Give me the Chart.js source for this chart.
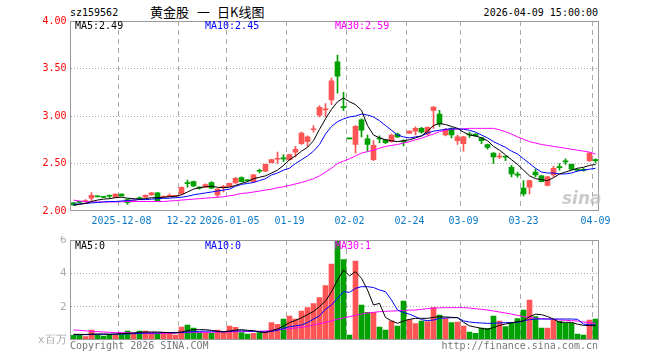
<!DOCTYPE html>
<html>
<head>
<meta charset="utf-8">
<script src="https://cdn.jsdelivr.net/npm/chart.js@4.4.0/dist/chart.umd.min.js"></script>
<style>
body { margin: 0; background: #fff; width: 660px; height: 360px; position: relative; overflow: hidden; font-family: "DejaVu Sans Mono", monospace; font-size: 10px; }
.t { position: absolute; white-space: pre; line-height: 12px; }
.cn { font-family: 'Noto Sans CJK SC'; font-size: 13px; line-height: 18px; top: 3px; }
canvas { position: absolute; left: 0; }
</style>
</head>
<body>
<div class="t" style="left:70px;top:7px">sz159562</div>
<div class="t cn" style="left:150px">黄金股</div>
<div class="t cn" style="left:197px">一</div>
<div class="t cn" style="left:217px">日K线图</div>
<div class="t" style="right:62px;top:7px">2026-04-09 15:00:00</div>

<canvas id="priceChart" width="660" height="236" style="top:0"></canvas>
<canvas id="volChart" width="660" height="124" style="top:236px"></canvas>

<div class="t" style="left:75px;top:20px;color:#000">MA5:2.49</div>
<div class="t" style="left:205px;top:20px;color:#0000ff">MA10:2.45</div>
<div class="t" style="left:335px;top:20px;color:#ff00ff">MA30:2.59</div>
<div class="t" style="left:562px;top:188px;color:rgba(190,190,190,0.8);font:italic bold 17px 'DejaVu Sans'">sina</div>

<div class="t" style="left:75px;top:240px;color:#000">MA5:0</div>
<div class="t" style="left:205px;top:240px;color:#0000ff">MA10:0</div>
<div class="t" style="left:335px;top:240px;color:#ff00ff">MA30:1</div>

<div class="t" style="left:70px;top:340px;color:#777">Copyright 2026 SINA.COM</div>
<div class="t" style="right:62px;top:340px;color:#777">http://finance.sina.com.cn</div>

<script>
// trading days shown on the chart
const dates = [
    '2025-11-26','2025-11-27','2025-11-28','2025-12-01','2025-12-02','2025-12-03','2025-12-04','2025-12-05',
    '2025-12-08','2025-12-09','2025-12-10','2025-12-11','2025-12-12','2025-12-15','2025-12-16','2025-12-17','2025-12-18','2025-12-19',
    '2025-12-22','2025-12-23','2025-12-24','2025-12-25','2025-12-26','2025-12-29','2025-12-30','2025-12-31',
    '2026-01-05','2026-01-06','2026-01-07','2026-01-08','2026-01-09','2026-01-12','2026-01-13','2026-01-14','2026-01-15','2026-01-16',
    '2026-01-19','2026-01-20','2026-01-21','2026-01-22','2026-01-23','2026-01-26','2026-01-27','2026-01-28','2026-01-29','2026-01-30',
    '2026-02-02','2026-02-03','2026-02-04','2026-02-05','2026-02-06','2026-02-09','2026-02-10','2026-02-11','2026-02-12','2026-02-13',
    '2026-02-24','2026-02-25','2026-02-26','2026-02-27','2026-03-02','2026-03-03','2026-03-04','2026-03-05','2026-03-06',
    '2026-03-09','2026-03-10','2026-03-11','2026-03-12','2026-03-13','2026-03-16','2026-03-17','2026-03-18','2026-03-19','2026-03-20',
    '2026-03-23','2026-03-24','2026-03-25','2026-03-26','2026-03-27','2026-03-30','2026-03-31','2026-04-01','2026-04-02','2026-04-03','2026-04-07','2026-04-08',
    '2026-04-09'
];

const tickDates = ['2025-12-08','2025-12-22','2026-01-05','2026-01-19','2026-02-02','2026-02-24','2026-03-09','2026-03-23','2026-04-09'];
const tickText = ['2025-12-08','12-22','2026-01-05','01-19','02-02','02-24','03-09','03-23','04-09'];

const open = [
    2.085,2.095,2.10,2.135,2.155,2.148,2.16,2.145,
    2.178,2.12,2.10,2.133,2.145,2.17,2.19,2.145,2.152,2.155,
    2.18,2.295,2.31,2.245,2.25,2.30,2.17,2.25,
    2.26,2.295,2.352,2.323,2.31,2.423,2.42,2.51,2.545,2.553,
    2.54,2.62,2.71,2.73,2.855,3.01,3.065,3.17,3.57,3.095,
    2.765,2.70,2.96,2.76,2.54,2.765,2.75,2.73,2.81,2.735,
    2.82,2.84,2.87,2.81,3.06,3.02,2.80,2.87,2.74,
    2.71,2.805,2.81,2.77,2.70,2.61,2.568,2.573,2.46,2.383,
    2.24,2.25,2.41,2.37,2.27,2.38,2.463,2.523,2.49,2.433,2.433,2.53,
    2.535
];
const close = [
    2.065,2.09,2.105,2.165,2.15,2.143,2.155,2.178,
    2.16,2.088,2.11,2.128,2.165,2.19,2.105,2.155,2.165,2.162,
    2.25,2.288,2.265,2.24,2.278,2.24,2.23,2.258,
    2.29,2.345,2.31,2.318,2.38,2.418,2.49,2.54,2.552,2.548,
    2.595,2.65,2.82,2.78,2.862,3.09,3.072,3.37,3.42,3.088,
    2.76,2.89,2.85,2.70,2.69,2.758,2.72,2.80,2.78,2.728,
    2.84,2.87,2.83,2.88,3.095,2.92,2.86,2.80,2.78,
    2.78,2.80,2.79,2.74,2.67,2.57,2.574,2.567,2.39,2.377,
    2.18,2.32,2.38,2.31,2.36,2.45,2.457,2.517,2.44,2.428,2.427,2.61,
    2.53
];
const high = [
    2.09,2.10,2.12,2.195,2.16,2.155,2.17,2.18,
    2.18,2.125,2.12,2.15,2.17,2.195,2.195,2.16,2.18,2.165,
    2.255,2.325,2.315,2.255,2.285,2.31,2.235,2.27,
    2.295,2.355,2.36,2.33,2.385,2.44,2.495,2.545,2.62,2.595,
    2.60,2.68,2.83,2.79,2.90,3.11,3.13,3.40,3.64,3.25,
    2.765,2.90,2.97,2.80,2.74,2.79,2.755,2.81,2.82,2.75,
    2.845,2.885,2.88,2.885,3.10,3.06,2.87,2.875,2.80,
    2.785,2.83,2.815,2.775,2.705,2.615,2.61,2.575,2.48,2.41,
    2.32,2.325,2.44,2.375,2.365,2.47,2.50,2.55,2.495,2.44,2.45,2.615,
    2.55
];
const low = [
    2.06,2.085,2.08,2.10,2.145,2.14,2.135,2.14,
    2.155,2.07,2.095,2.12,2.14,2.165,2.10,2.14,2.15,2.15,
    2.175,2.25,2.255,2.23,2.245,2.235,2.15,2.20,
    2.255,2.29,2.305,2.305,2.30,2.40,2.415,2.505,2.50,2.52,
    2.535,2.57,2.70,2.68,2.83,2.99,2.99,3.12,3.24,3.06,
    2.76,2.61,2.78,2.63,2.53,2.72,2.71,2.725,2.775,2.685,
    2.815,2.80,2.82,2.80,2.87,2.89,2.79,2.77,2.70,
    2.63,2.775,2.785,2.71,2.65,2.50,2.55,2.53,2.36,2.355,
    2.16,2.18,2.36,2.305,2.265,2.36,2.43,2.49,2.435,2.42,2.42,2.52,
    2.505
];

const ma5 = [
    2.06,2.07,2.08,2.10,2.115,2.125,2.13,2.14,2.145,2.135,
    2.13,2.125,2.13,2.14,2.14,2.145,2.15,2.155,2.17,2.20,
    2.23,2.245,2.255,2.26,2.25,2.245,2.25,2.27,2.29,2.31,
    2.34,2.355,2.37,2.40,2.43,2.48,2.54,2.58,2.63,2.67,
    2.74,2.86,2.97,3.07,3.15,3.19,3.15,3.12,3.06,2.90,
    2.80,2.77,2.75,2.74,2.73,2.74,2.75,2.77,2.79,2.84,
    2.90,2.92,2.91,2.89,2.87,2.83,2.80,2.79,2.77,2.74,
    2.68,2.64,2.59,2.54,2.49,2.43,2.37,2.34,2.33,2.32,
    2.35,2.39,2.41,2.43,2.45,2.46,2.48,2.49
];
const ma10 = [
    2.07,2.075,2.08,2.085,2.09,2.095,2.10,2.10,2.105,2.11,
    2.115,2.12,2.12,2.125,2.13,2.133,2.135,2.14,2.145,2.155,
    2.17,2.18,2.19,2.20,2.21,2.22,2.23,2.26,2.28,2.29,
    2.30,2.32,2.34,2.38,2.40,2.43,2.45,2.50,2.54,2.58,
    2.63,2.70,2.81,2.89,2.94,2.97,2.99,3.00,3.02,3.01,
    2.99,2.95,2.90,2.85,2.80,2.78,2.77,2.78,2.79,2.82,
    2.84,2.85,2.86,2.865,2.865,2.86,2.85,2.83,2.80,2.77,
    2.73,2.70,2.67,2.63,2.60,2.55,2.50,2.45,2.41,2.40,
    2.40,2.39,2.39,2.40,2.42,2.43,2.44,2.45
];
const ma30 = [
    2.115,2.105,2.10,2.095,2.095,2.095,2.095,2.095,2.098,2.10,
    2.10,2.10,2.10,2.10,2.10,2.10,2.105,2.11,2.115,2.12,
    2.125,2.13,2.135,2.14,2.145,2.15,2.16,2.17,2.185,2.19,
    2.20,2.21,2.22,2.23,2.245,2.255,2.27,2.285,2.30,2.32,
    2.34,2.37,2.41,2.45,2.50,2.525,2.55,2.58,2.61,2.625,
    2.64,2.66,2.68,2.69,2.70,2.715,2.73,2.75,2.765,2.79,
    2.81,2.835,2.85,2.86,2.862,2.865,2.87,2.87,2.87,2.87,
    2.87,2.855,2.835,2.81,2.78,2.755,2.73,2.715,2.70,2.69,
    2.68,2.67,2.66,2.65,2.64,2.63,2.62,2.60
];

// volume in millions
const volume = [
    0.28,0.28,0.2,0.6,0.3,0.24,0.34,0.32,0.4,0.54,
    0.4,0.54,0.54,0.44,0.4,0.44,0.44,0.3,0.78,0.9,
    0.72,0.44,0.44,0.4,0.6,0.44,0.84,0.76,0.44,0.36,
    0.4,0.44,0.5,1.04,0.94,1.26,1.44,1.26,1.74,1.94,
    2.18,2.54,3.26,4.56,5.96,4.82,0.3,4.74,2.1,1.66,
    1.66,0.78,0.6,1.14,0.84,2.34,1.22,0.98,1.14,1.1,
    1.94,1.5,1.28,1.04,1.08,0.84,0.48,0.4,0.72,0.7,
    1.44,1.14,0.8,1.06,1.28,1.8,2.4,1.4,0.72,0.72,
    1.2,1.12,1.0,1.0,0.36,0.3,1.2,1.26
];
const volMa5 = [
    0.34,0.34,0.33,0.36,0.36,0.36,0.34,0.36,0.38,0.40,
    0.42,0.46,0.48,0.48,0.48,0.46,0.44,0.42,0.48,0.56,
    0.62,0.62,0.62,0.58,0.52,0.48,0.54,0.6,0.62,0.58,
    0.56,0.48,0.44,0.56,0.66,0.84,1.04,1.18,1.33,1.53,
    1.71,2.01,2.33,2.90,3.60,4.20,3.85,4.10,3.70,3.00,
    2.10,2.20,1.35,1.15,1.00,1.14,1.24,1.30,1.30,1.30,
    1.36,1.40,1.38,1.36,1.34,1.06,0.85,0.77,0.70,0.64,
    0.75,0.88,0.96,1.03,1.10,1.14,1.40,1.55,1.52,1.41,
    1.25,1.06,1.06,1.06,0.95,0.88,0.86,0.86
];
const volMa10 = [
    0.32,0.32,0.32,0.33,0.34,0.34,0.35,0.35,0.36,0.37,
    0.38,0.40,0.41,0.42,0.43,0.44,0.45,0.45,0.46,0.48,
    0.50,0.52,0.53,0.53,0.52,0.51,0.52,0.54,0.55,0.54,
    0.52,0.50,0.48,0.52,0.58,0.70,0.80,0.85,0.90,1.05,
    1.25,1.45,1.85,2.10,2.50,2.90,2.86,3.10,3.20,3.20,
    3.15,3.00,2.90,2.40,1.80,1.65,1.55,1.40,1.22,1.16,
    1.20,1.30,1.32,1.34,1.34,1.15,1.08,1.04,1.02,1.00,
    1.00,1.03,1.04,1.05,1.06,1.15,1.22,1.26,1.26,1.26,
    1.26,1.26,1.26,1.26,1.24,0.96,0.92,0.90
];
const volMa30 = [
    0.6,0.58,0.55,0.52,0.5,0.48,0.46,0.45,0.44,0.44,
    0.43,0.42,0.41,0.4,0.4,0.4,0.4,0.42,0.44,0.45,
    0.46,0.46,0.46,0.46,0.47,0.48,0.49,0.5,0.5,0.51,
    0.52,0.53,0.54,0.58,0.62,0.65,0.68,0.72,0.76,0.82,
    0.9,0.98,1.06,1.14,1.26,1.32,1.4,1.48,1.56,1.62,
    1.66,1.7,1.72,1.74,1.75,1.77,1.79,1.8,1.84,1.88,
    1.92,1.93,1.94,1.94,1.94,1.94,1.92,1.88,1.84,1.8,
    1.74,1.68,1.62,1.55,1.48,1.4,1.36,1.3,1.28,1.26,
    1.24,1.2,1.18,1.16,1.14,1.08,1.04,1.0
];

const UP = '#ff5555';
const DOWN = '#00a000';
const candleColors = close.map((c, i) => c >= open[i] ? UP : DOWN);
const monoFont = { family: 'DejaVu Sans Mono', size: 10 };

function xAxis(showLabels) {
    return {
        type: 'category',
        offset: true,
        grid: {
            offset: true,
            drawTicks: false,
            color: (ctx) => tickDates.includes(dates[ctx.index]) ? '#aaaaaa' : 'rgba(0,0,0,0)'
        },
        border: { display: false, dash: [5, 4] },
        ticks: {
            display: showLabels,
            autoSkip: false,
            maxRotation: 0,
            padding: 4,
            color: '#0a7ac8',
            font: monoFont,
            callback: function (value, index) {
                const k = tickDates.indexOf(dates[index]);
                return k >= 0 ? tickText[k] : '';
            }
        },
        afterFit: function (scale) {
            scale.height = showLabels ? 25 : 0;
            scale.paddingLeft = 0;
            scale.paddingRight = 0;
        }
    };
}

function yGridColor(min, max) {
    return (ctx) => {
        if (!ctx.tick || ctx.tick.value === min || ctx.tick.value === max) return 'rgba(0,0,0,0)';
        return '#aaaaaa';
    };
}

// grey frame around the plot area
const framePlugin = {
    id: 'frame',
    afterDraw(chart) {
        const a = chart.chartArea;
        const c = chart.ctx;
        c.save();
        c.strokeStyle = '#999999';
        c.lineWidth = 1;
        c.strokeRect(Math.round(a.left) - 0.5, Math.round(a.top) + 0.5, Math.round(a.right - a.left), Math.round(a.bottom - a.top) - 1);
        c.restore();
    }
};

function lineSet(data, color) {
    return {
        type: 'line',
        data: data,
        borderColor: color,
        borderWidth: 1,
        pointRadius: 0,
        tension: 0,
        fill: false,
        order: 0
    };
}

const priceCtx = document.getElementById('priceChart').getContext('2d');
const priceChart = new Chart(priceCtx, {
    type: 'bar',
    data: {
        labels: dates,
        datasets: [
            {
                label: 'wick',
                data: low.map((l, i) => [l, high[i]]),
                backgroundColor: candleColors,
                barThickness: 1,
                grouped: false,
                order: 2
            },
            {
                label: 'body',
                data: open.map((o, i) => [o, close[i]]),
                backgroundColor: candleColors,
                barThickness: 5,
                minBarLength: 1,
                grouped: false,
                order: 1
            },
            lineSet(ma5, '#000000'),
            lineSet(ma10, '#0000ff'),
            lineSet(ma30, '#ff00ff')
        ]
    },
    options: {
        responsive: false,
        animation: false,
        devicePixelRatio: 1,
        layout: { padding: { top: 21, right: 61.5, bottom: 0, left: 0 } },
        plugins: { legend: { display: false }, tooltip: { enabled: false } },
        scales: {
            x: xAxis(true),
            y: {
                min: 2,
                max: 4,
                grid: { drawTicks: false, color: yGridColor(2, 4) },
                border: { display: false, dash: [1, 2] },
                ticks: {
                    stepSize: 0.5,
                    padding: 4,
                    color: '#ff0000',
                    font: monoFont,
                    callback: (v) => Number(v).toFixed(2)
                },
                afterFit: function (scale) {
                    scale.width = 70.5;
                    scale.paddingTop = 0;
                    scale.paddingBottom = 0;
                }
            }
        }
    },
    plugins: [framePlugin]
});

const volCtx = document.getElementById('volChart').getContext('2d');
const volChart = new Chart(volCtx, {
    type: 'bar',
    data: {
        labels: dates,
        datasets: [
            {
                label: 'volume',
                data: volume,
                backgroundColor: candleColors,
                barThickness: 5,
                order: 1
            },
            lineSet(volMa5, '#000000'),
            lineSet(volMa10, '#0000ff'),
            lineSet(volMa30, '#ff00ff')
        ]
    },
    options: {
        responsive: false,
        animation: false,
        devicePixelRatio: 1,
        layout: { padding: { top: 4, right: 61.5, bottom: 20, left: 0 } },
        plugins: { legend: { display: false }, tooltip: { enabled: false } },
        scales: {
            x: xAxis(false),
            y: {
                min: 0,
                max: 6,
                grid: { drawTicks: false, color: yGridColor(0, 6) },
                border: { display: false, dash: [1, 2] },
                ticks: {
                    stepSize: 2,
                    padding: 4,
                    color: '#aaaaaa',
                    font: { family: 'DejaVu Sans Mono', size: 11 },
                    callback: (v) => v === 0 ? 'x百万' : String(v)
                },
                afterFit: function (scale) {
                    scale.width = 70.5;
                    scale.paddingTop = 0;
                    scale.paddingBottom = 0;
                }
            }
        }
    },
    plugins: [framePlugin]
});
</script>
</body>
</html>
